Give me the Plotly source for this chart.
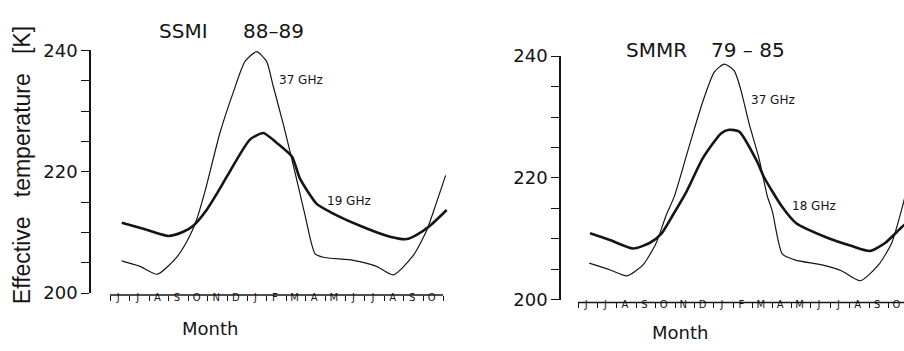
import plotly.graph_objects as go

# ---------------- data ----------------
months = ["J", "J", "A", "S", "O", "N", "D", "J", "F", "M", "A", "M", "J", "J", "A", "S", "O"]
y_ticks = [200, 220, 240]
y_minor = [205, 210, 215, 225, 230, 235]

# SSMI 88-89 (left panel); x in months from start of first June
ssmi_37_m = [0.6, 1.53, 2.41, 3.4, 4.05, 4.42, 4.85, 5.61, 6.29, 6.89, 7.48, 7.99, 8.33, 8.84,
             9.27, 9.61, 9.95, 10.46, 10.88, 12.41, 13.6, 14.46, 15.48, 16.16, 16.67, 17.13]
ssmi_37_t = [205.3, 204.4, 203.1, 205.9, 209.3, 212.1, 216.8, 226.4, 233.1, 238.2, 239.8, 238.2, 234.1, 227.9,
             222.2, 217.6, 212.9, 206.5, 205.9, 205.4, 204.4, 203.0, 206.2, 210.3, 215.0, 219.4]
ssmi_19_m = [0.6, 1.7, 2.98, 3.74, 4.25, 4.93, 5.53, 6.0, 7.14, 7.82, 8.5, 9.29, 9.69, 10.55,
             11.22, 12.76, 14.29, 15.14, 15.65, 16.33, 17.18]
ssmi_19_t = [211.6, 210.6, 209.4, 210.1, 211.1, 213.7, 216.8, 219.4, 225.3, 226.4, 224.8, 222.5, 218.9, 214.7,
             213.4, 211.1, 209.3, 208.9, 209.6, 211.1, 213.7]

# SMMR 79-85 (right panel)
smmr_37_m = [0.58, 1.64, 2.53, 3.35, 4.03, 4.55, 4.97, 5.74, 6.43, 7.03, 7.54, 8.05, 8.39, 8.82,
             9.33, 9.76, 10.02, 10.53, 11.21, 12.58, 13.6, 14.55, 15.49, 16.17, 16.7, 16.9]
smmr_37_t = [206.0, 204.9, 203.9, 205.7, 209.3, 213.9, 217.0, 225.3, 232.5, 237.4, 238.7, 237.6, 234.5, 228.9,
             223.2, 217.0, 214.5, 207.5, 206.5, 205.7, 204.7, 203.1, 205.7, 209.3, 215.0, 217.5]
smmr_18_m = [0.62, 1.64, 2.84, 3.69, 4.29, 4.89, 5.6, 6.43, 7.37, 7.79, 8.31, 9.23, 9.59, 10.53,
             11.23, 12.75, 14.12, 15.06, 15.83, 16.68, 16.9]
smmr_18_t = [210.9, 209.8, 208.4, 209.3, 210.8, 213.9, 217.8, 223.2, 227.3, 227.9, 227.6, 222.7, 220.1, 215.2,
             212.6, 210.3, 208.8, 208.0, 209.3, 211.9, 212.5]

# ---------------- layout helpers ----------------
W, H = 904, 351
def fx(px):
    return px / W
def fy(py):
    return 1 - py / H

INK = "#151515"
THIN = 1.2
THICK = 2.6

fig = go.Figure()
fig.add_trace(go.Scatter(x=ssmi_37_m, y=ssmi_37_t, mode="lines", xaxis="x", yaxis="y",
                         line=dict(color=INK, width=THIN, shape="spline", smoothing=0.6), showlegend=False))
fig.add_trace(go.Scatter(x=ssmi_19_m, y=ssmi_19_t, mode="lines", xaxis="x", yaxis="y",
                         line=dict(color=INK, width=THICK, shape="spline", smoothing=0.6), showlegend=False))
fig.add_trace(go.Scatter(x=smmr_37_m, y=smmr_37_t, mode="lines", xaxis="x2", yaxis="y2",
                         line=dict(color=INK, width=THIN, shape="spline", smoothing=0.6), showlegend=False))
fig.add_trace(go.Scatter(x=smmr_18_m, y=smmr_18_t, mode="lines", xaxis="x2", yaxis="y2",
                         line=dict(color=INK, width=THICK, shape="spline", smoothing=0.6), showlegend=False))

def xax(domain, rng, pos):
    return dict(domain=domain, range=rng, anchor="free", position=pos,
                showline=False, showgrid=False, zeroline=False,
                tickmode="array", tickvals=[i + 0.42 for i in range(len(months))], ticktext=months,
                ticks="", ticklabelstandoff=-5,
                tickfont=dict(size=10, family="DejaVu Sans", color=INK),
                minor=dict(tickmode="array", tickvals=list(range(len(months) + 1)), ticks="outside",
                           ticklen=5, tickwidth=1.2, tickcolor=INK, showgrid=False),
                fixedrange=True)

def yax(domain, pos):
    return dict(domain=domain, range=[200, 240], anchor="free", position=pos,
                showline=True, linecolor=INK, linewidth=1.5, showgrid=False, zeroline=False,
                tickmode="array", tickvals=y_ticks, ticks="outside", ticklen=8, tickwidth=1.3,
                tickcolor=INK, tickfont=dict(size=18, family="DejaVu Sans", color=INK),
                minor=dict(tickmode="array", tickvals=y_minor, ticks="outside", ticklen=8,
                           tickwidth=1.3, tickcolor=INK, showgrid=False),
                fixedrange=True)

fig.update_layout(
    width=W, height=H, margin=dict(l=0, r=0, t=0, b=0),
    paper_bgcolor="white", plot_bgcolor="white",
    xaxis=xax([fx(110), fx(448)], [0, 17.25], fy(302)),
    yaxis=yax([fy(300), fy(42)], fx(90)),
    xaxis2=xax([fx(578), 1.0], [0, (904 - 578) / 19.4], fy(310)),
    yaxis2=yax([fy(307), fy(48)], fx(560)),
    shapes=[
        dict(type="line", xref="x", yref="paper", x0=0, x1=17, y0=fy(302), y1=fy(302),
             line=dict(color=INK, width=1.5)),
        dict(type="line", xref="x2", yref="paper", x0=0, x1=17, y0=fy(310), y1=fy(310),
             line=dict(color=INK, width=1.5)),
    ],
)

def ann(text, x, y, size, family="DejaVu Sans", xanchor="center", angle=0):
    fig.add_annotation(text=text, x=fx(x), y=fy(y), xref="paper", yref="paper", showarrow=False,
                       xanchor=xanchor, yanchor="middle", textangle=angle,
                       font=dict(size=size, family=family, color=INK))

# titles
ann("SSMI", 183, 21, 20)
ann("88–89", 273, 21, 20)
ann("SMMR", 656, 42, 20)
ann("79 – 85", 748, 42, 20)
# frequency labels
ann("37 GHz", 277, 73, 12, xanchor="left")
ann("19 GHz", 325, 202, 12, xanchor="left")
ann("37 GHz", 749, 95, 12, xanchor="left")
ann("18 GHz", 790, 207, 12, xanchor="left")
# axis titles
ann("Month", 210, 338, 18)
ann("Month", 680, 342, 18)
ann("Effective\u00a0\u00a0\u00a0temperature\u00a0\u00a0\u00a0[K]", 22, 164, 23,
    family="Liberation Sans", angle=-90)

fig.write_html("out.html", config={"displayModeBar": False},
               post_script="document.body.style.margin='0px';document.body.style.overflow='hidden';")
